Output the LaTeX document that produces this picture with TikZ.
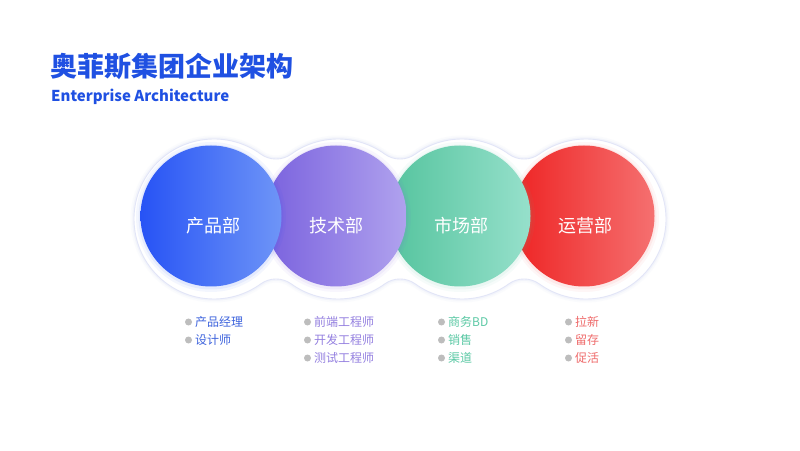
\documentclass[tikz,border=0pt]{standalone}
\usepackage{fontspec}
\setmainfont{Noto Sans CJK SC}
\newfontfamily\cjk{Noto Sans CJK SC}
\definecolor{titleblue}{HTML}{1F50E2}
\definecolor{outl}{HTML}{E2E5F7}
\definecolor{bulgray}{HTML}{BDBDBD}
\definecolor{bA}{HTML}{2753F5}\definecolor{bB}{HTML}{6E95F7}
\definecolor{pA}{HTML}{7A62DE}\definecolor{pB}{HTML}{B0A2EE}
\definecolor{gA}{HTML}{55C49E}\definecolor{gB}{HTML}{96E0CB}
\definecolor{rA}{HTML}{EE2424}\definecolor{rB}{HTML}{F57070}
\definecolor{tBlue}{HTML}{3D63DD}
\definecolor{tPurple}{HTML}{9480E0}
\definecolor{tGreen}{HTML}{5CC9A5}
\definecolor{tRed}{HTML}{EF6B6B}
\tikzset{
  outlinepath/.style={insert path={
    (L1) ++(54.2:80) arc[start angle=54.2,end angle=305.8,radius=80]
    arc[start angle=125.8,end angle=54.2,radius=26]
    arc[start angle=234.2,end angle=305.8,radius=80]
    arc[start angle=125.8,end angle=54.2,radius=26]
    arc[start angle=234.2,end angle=305.8,radius=80]
    arc[start angle=125.8,end angle=54.2,radius=26]
    arc[start angle=234.2,end angle=485.8,radius=80]
    arc[start angle=305.8,end angle=234.2,radius=26]
    arc[start angle=54.2,end angle=125.8,radius=80]
    arc[start angle=305.8,end angle=234.2,radius=26]
    arc[start angle=54.2,end angle=125.8,radius=80]
    arc[start angle=305.8,end angle=234.2,radius=26]
    -- cycle}},
  dept/.style={circle, minimum size=141pt, inner sep=0pt},
  deptlabel/.style={text=white, font=\cjk\fontsize{18}{20}\selectfont},
  itemtext/.style={anchor=west, inner sep=0pt, font=\cjk\fontsize{12}{14}\selectfont},
  bullet/.style={fill=bulgray},
}
\begin{document}
\begin{tikzpicture}[x=1pt,y=1pt]
\fill[white] (0,0) rectangle (800,450);
\useasboundingbox (0,0) rectangle (800,450);

% title
\node[anchor=west, inner sep=0pt, text=titleblue, font=\cjk\bfseries\fontsize{27}{30}\selectfont] (title) at (50,384) {奥菲斯集团企业架构};
\node[anchor=west, inner sep=0pt, text=titleblue, font=\cjk\bfseries\fontsize{15}{18}\selectfont] (subtitle) at (51,353) {Enterprise Architecture};

% outline
\coordinate (L1) at (214,231);
\path[draw=outl, line width=7pt, opacity=0.15, outlinepath];
\path[draw=outl, line width=3.5pt, opacity=0.3, outlinepath];
\path[fill=white, draw=outl, line width=0.9pt, outlinepath];

% circles (right to left so that the left one lies on top)
\fill[rA, opacity=0.04] (584,233) circle (75);
\fill[rA, opacity=0.06] (584,233) circle (72.5);
\node[dept, left color=rA, right color=rB] (c4) at (584,234) {};
\fill[gA, opacity=0.05] (460,233) circle (75);
\fill[gA, opacity=0.07] (460,233) circle (72.5);
\node[dept, left color=gA, right color=gB] (c3) at (460,234) {};
\fill[pA, opacity=0.05] (336,233) circle (75);
\fill[pA, opacity=0.07] (336,233) circle (72.5);
\node[dept, left color=pA, right color=pB] (c2) at (336,234) {};
\fill[bA, opacity=0.05] (211,233) circle (75);
\fill[bA, opacity=0.07] (211,233) circle (72.5);
\node[dept, left color=bA, right color=bB] (c1) at (211,234) {};

\node[deptlabel] (l1) at (213,224) {产品部};
\node[deptlabel] (l2) at (336,224) {技术部};
\node[deptlabel] (l3) at (461,224) {市场部};
\node[deptlabel] (l4) at (585,224) {运营部};

% lists
\node[itemtext, text=tBlue] (a1) at (195,128) {产品经理};
\node[itemtext, text=tBlue] (a2) at (195,110) {设计师};
\node[itemtext, text=tPurple] (b1) at (314,128) {前端工程师};
\node[itemtext, text=tPurple] (b2) at (314,110) {开发工程师};
\node[itemtext, text=tPurple] (b3) at (314,92) {测试工程师};
\node[itemtext, text=tGreen] (g1) at (448,128) {商务BD};
\node[itemtext, text=tGreen] (g2) at (448,110) {销售};
\node[itemtext, text=tGreen] (g3) at (448,92) {渠道};
\node[itemtext, text=tRed] (r1) at (575,128) {拉新};
\node[itemtext, text=tRed] (r2) at (575,110) {留存};
\node[itemtext, text=tRed] (r3) at (575,92) {促活};
\foreach \n in {a1,a2,b1,b2,b3,g1,g2,g3,r1,r2,r3}{
  \fill[bullet] ([xshift=-6.5pt]\n.west) circle (3.5);
}
\end{tikzpicture}
\end{document}
